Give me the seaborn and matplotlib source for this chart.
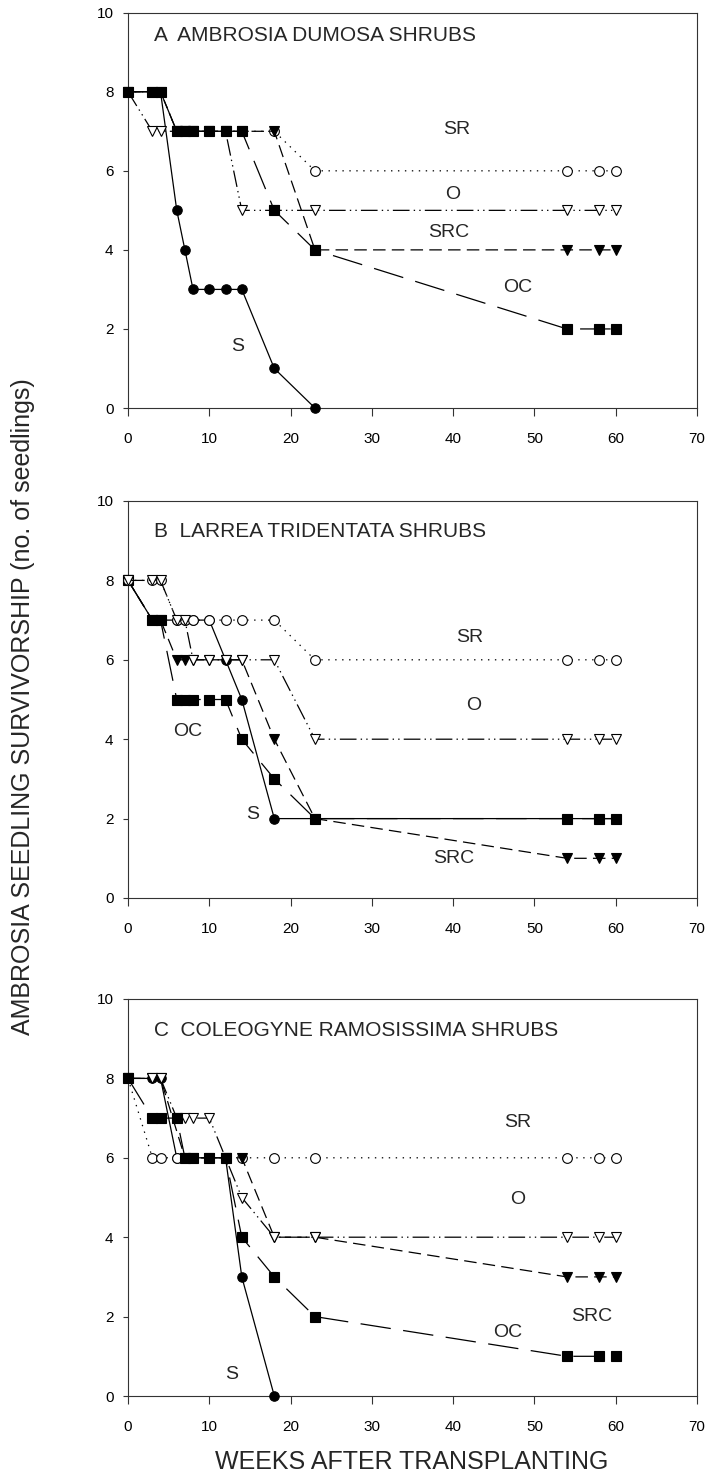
"""Ambrosia seedling survivorship under three shrub species (panels A-C)."""
import matplotlib
matplotlib.use("Agg")
import matplotlib.pyplot as plt
import numpy as np
import pandas as pd
import seaborn as sns

# ---------------------------------------------------------------------------
# Data (weeks after transplanting, number of surviving seedlings)
# ---------------------------------------------------------------------------
weeks = [0, 3, 4, 6, 7, 8, 10, 12, 14, 18, 23, 54, 58, 60]
treatments = ["S", "SR", "O", "SRC", "OC"]

# A  Ambrosia dumosa shrubs
a_s = [8, 8, 8, 5, 4, 3, 3, 3, 3, 1, 0, None, None, None]
a_sr = [8, 8, 8, 7, 7, 7, 7, 7, 7, 7, 6, 6, 6, 6]
a_o = [8, 7, 7, 7, 7, 7, 7, 7, 5, 5, 5, 5, 5, 5]
a_src = [8, 8, 8, 7, 7, 7, 7, 7, 7, 7, 4, 4, 4, 4]
a_oc = [8, 8, 8, 7, 7, 7, 7, 7, 7, 5, 4, 2, 2, 2]

# B  Larrea tridentata shrubs
b_s = [8, 7, 7, 7, 7, 7, 7, 6, 5, 2, 2, 2, 2, 2]
b_sr = [8, 8, 8, 7, 7, 7, 7, 7, 7, 7, 6, 6, 6, 6]
b_o = [8, 8, 8, 7, 7, 6, 6, 6, 6, 6, 4, 4, 4, 4]
b_src = [8, 7, 7, 6, 6, 6, 6, 6, 6, 4, 2, 1, 1, 1]
b_oc = [8, 7, 7, 5, 5, 5, 5, 5, 4, 3, 2, 2, 2, 2]

# C  Coleogyne ramosissima shrubs
c_s = [8, 8, 8, 6, 6, 6, 6, 6, 3, 0, None, None, None, None]
c_sr = [8, 6, 6, 6, 6, 6, 6, 6, 6, 6, 6, 6, 6, 6]
c_o = [8, 8, 8, 7, 7, 7, 7, 6, 5, 4, 4, 4, 4, 4]
c_src = [8, 8, 8, None, 6, 6, 6, 6, 6, 4, 4, 3, 3, 3]
c_oc = [8, 7, 7, 7, 6, 6, 6, 6, 4, 3, 2, 1, 1, 1]

titles = ["A  AMBROSIA DUMOSA SHRUBS",
          "B  LARREA TRIDENTATA SHRUBS",
          "C  COLEOGYNE RAMOSISSIMA SHRUBS"]
title_y = [9.42, 9.23, 9.2]

# curve labels: (text, week, seedlings)
a_labels = [("SR", 40.4, 7.05), ("O", 40.0, 5.4), ("SRC", 39.5, 4.45),
            ("OC", 48.0, 3.05), ("S", 13.5, 1.55)]
b_labels = [("SR", 42.0, 6.55), ("O", 42.5, 4.85), ("SRC", 40.1, 1.0),
            ("OC", 7.3, 4.2), ("S", 15.3, 2.1)]
c_labels = [("SR", 48.0, 6.9), ("O", 48.0, 4.95), ("SRC", 57.0, 2.0),
            ("OC", 46.7, 1.6), ("S", 12.7, 0.55)]

# ---------------------------------------------------------------------------
# Style
# ---------------------------------------------------------------------------
sns.set_theme(style="ticks")
plt.rcParams["font.family"] = ["Liberation Sans", "DejaVu Sans"]
plt.rcParams["lines.scale_dashes"] = False

line_styles = {
    "S": dict(marker="o", markerfacecolor="black", markersize=6.8, linestyle="-"),
    "SR": dict(marker="o", markerfacecolor="white", markersize=7,
               linestyle=(0, (1.0, 4.0))),
    "O": dict(marker="v", markerfacecolor="white", markersize=7.5,
              linestyle=(0, (12, 3, 1, 3, 1, 3))),
    "SRC": dict(marker="v", markerfacecolor="black", markersize=7.5,
                linestyle=(0, (9, 4.5))),
    "OC": dict(marker="s", markerfacecolor="black", markersize=6.9,
               linestyle=(0, (22, 9))),
}

# drawing order per panel (last = on top)
draw_order = [
    ["S", "SR", "O", "SRC", "OC"],
    ["S", "SRC", "OC", "SR", "O"],
    ["S", "SR", "SRC", "O", "OC"],
]

panels = [
    dict(zip(treatments, [a_s, a_sr, a_o, a_src, a_oc])),
    dict(zip(treatments, [b_s, b_sr, b_o, b_src, b_oc])),
    dict(zip(treatments, [c_s, c_sr, c_o, c_src, c_oc])),
]
panel_labels = [a_labels, b_labels, c_labels]

W, H = 707, 1475
fig = plt.figure(figsize=(W / 100, H / 100), dpi=100)

left, right = 128 / W, 697 / W
axes_px = [(12.7, 408), (501, 898), (999, 1396)]  # (top, bottom) in pixels

for i, (top, bottom) in enumerate(axes_px):
    ax = fig.add_axes([left, 1 - bottom / H, right - left, (bottom - top) / H])
    df = pd.DataFrame({"week": weeks, **panels[i]})
    for z, name in enumerate(draw_order[i]):
        sub = df[["week", name]].dropna()
        sns.lineplot(data=sub, x="week", y=name, ax=ax, color="black",
                     lw=0.9, markeredgecolor="black", markeredgewidth=0.8,
                     estimator=None, errorbar=None, zorder=3 + z,
                     clip_on=False, **line_styles[name])
    for text, x, y in panel_labels[i]:
        ax.text(x, y, text, ha="center", va="center", fontsize=14)
    ax.text(3.2, title_y[i], titles[i], ha="left", va="center", fontsize=15)

    ax.set_xlim(0, 70)
    ax.set_ylim(0, 10)
    ax.set_xticks(np.arange(0, 71, 10))
    ax.set_yticks(np.arange(0, 11, 2))
    ax.set_xlabel("")
    ax.set_ylabel("")
    for sp in ax.spines.values():
        sp.set_visible(True)
        sp.set_linewidth(0.8)
        sp.set_color("#333333")
    ax.tick_params(axis="both", direction="out", width=0.8, colors="#333333",
                   labelcolor="black", labelsize=11)
    ax.tick_params(axis="y", length=3.6, pad=6.8)
    ax.tick_params(axis="x", length=6, pad=11)

fig.text(0.033, 0.521, "AMBROSIA SEEDLING SURVIVORSHIP (no. of seedlings)",
         rotation=90, ha="center", va="center", fontsize=18)
fig.text(0.583, 0.009, "WEEKS AFTER TRANSPLANTING", ha="center",
         va="center", fontsize=18)

fig.savefig("out.png", dpi=100)
